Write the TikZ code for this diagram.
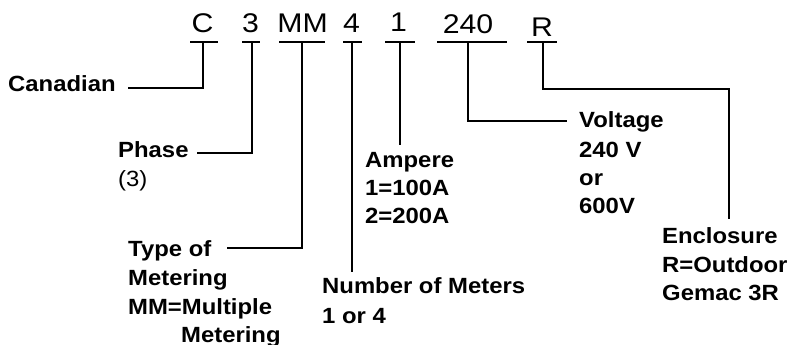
\documentclass[tikz,border=0pt]{standalone}
\usepackage{fontspec}
\setmainfont{Liberation Sans}[FakeStretch=1.085]
\newfontfamily\topfont{Liberation Sans}[FakeStretch=1.12]
\begin{document}
\begin{tikzpicture}[x=1pt,y=-1pt,
  lbl/.style={anchor=base west,inner sep=0pt,font=\fontsize{22}{28}\selectfont\bfseries},
  lblr/.style={anchor=base west,inner sep=0pt,font=\fontsize{22}{28}\selectfont},
  code/.style={anchor=base,inner sep=0pt,font=\topfont\fontsize{27}{30}\selectfont},
  wire/.style={line width=2pt,line cap=butt,line join=miter}]
\useasboundingbox (0,0) rectangle (793,345);
% top code letters
\node[code] (tC)   at (202.5,33) {C};
\node[code] (t3)   at (250.5,33) {3};
\node[code] (tMM)  at (302.5,33) {MM};
\node[code] (t4)   at (351.5,33) {4};
\node[code] (t1)   at (398.5,32) {1};
\node[code] (t240) at (468,34) {240};
\node[code] (tR)   at (542,37) {R};
% underline bars
\foreach \n/\a/\b in {C/190/218, 3/242/260, MM/279/325, 4/343/362, 1/385/415, 240/437/507, R/527/557}{
  \coordinate (bl\n) at (\a,42);
  \coordinate (br\n) at (\b,42);
  \draw[wire] (bl\n) -- (br\n);
}
% stem top points
\coordinate (sC)   at (203,42);
\coordinate (s3)   at (252,42);
\coordinate (sMM)  at (302,42);
\coordinate (s4)   at (352,42);
\coordinate (s1)   at (400,42);
\coordinate (s240) at (468,42);
\coordinate (sR)   at (543,42);
% labels
\node[lbl] (can) at (8,92) {Canadian};
\node[lbl] (pha) at (118,157) {Phase};
\node[lblr] (pha3) at (118,186) {(3)};
\node[lbl] (typA) at (128,256) {Type of};
\node[lbl] (typB) at (128,285) {Metering};
\node[lbl] (typC) at (128,314) {MM=Multiple};
\node[lbl] (typD) at (181,342) {Metering};
\node[lbl] (numA) at (322,293) {Number of Meters};
\node[lbl] (numB) at (322,323) {1 or 4};
\node[lbl] (ampA) at (365,167) {Ampere};
\node[lbl] (ampB) at (365,195) {1=100A};
\node[lbl] (ampC) at (365,223) {2=200A};
\node[lbl] (volA) at (579,128) {Voltage};
\node[lbl] (volB) at (579,157) {240 V};
\node[lbl] (volC) at (579,185) {or};
\node[lbl] (volD) at (579,213) {600V};
\node[lbl] (encA) at (662,243) {Enclosure};
\node[lbl] (encB) at (662,272) {R=Outdoor};
\node[lbl] (encC) at (662,300) {Gemac 3R};
% connector ends
\coordinate (eC)   at (128,88);
\coordinate (e3)   at (197,153);
\coordinate (eMM)  at (227,248);
\coordinate (e4)   at (352,272);
\coordinate (e1)   at (400,145);
\coordinate (e240) at (567,121);
\coordinate (eR)   at (729,219);
% connectors
\draw[wire] (sC) |- (eC);
\draw[wire] (s3) |- (e3);
\draw[wire] (sMM) |- (eMM);
\draw[wire] (s4) -- (e4);
\draw[wire] (s1) -- (e1);
\draw[wire] (s240) |- (e240);
\draw[wire] (sR) |- (729,89) -- (eR);
\end{tikzpicture}
\end{document}
